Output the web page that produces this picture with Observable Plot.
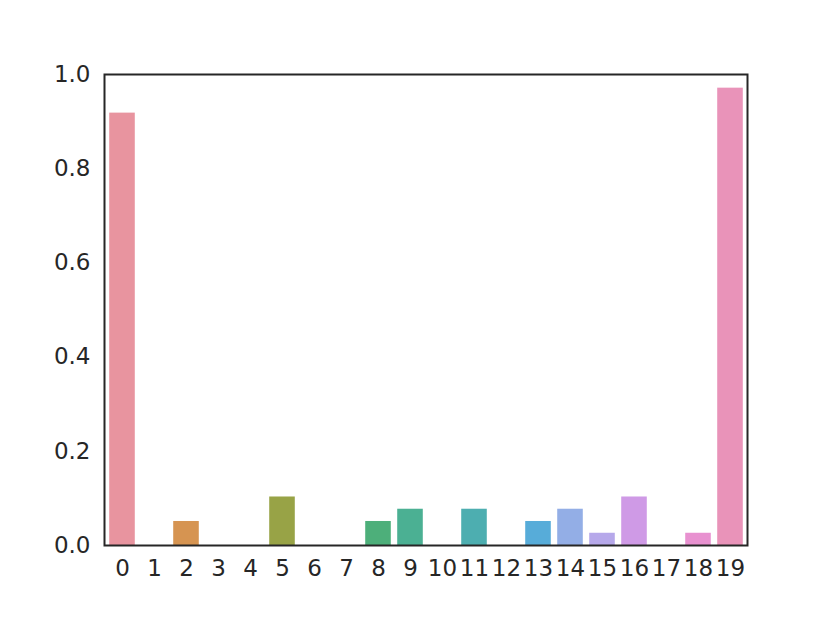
<!DOCTYPE html>
<html>
<head>
<meta charset="utf-8">
<script src="https://cdn.jsdelivr.net/npm/d3@7"></script>
<script src="https://cdn.jsdelivr.net/npm/@observablehq/plot@0.6"></script>
<style>
  html, body { margin: 0; padding: 0; background: #fff; }
  #chart { width: 830px; height: 623px; }
</style>
</head>
<body>
<div id="chart"></div>
<script>
const categories = ["0","1","2","3","4","5","6","7","8","9","10","11","12","13","14","15","16","17","18","19"];
const values = [0.918, 0, 0.051, 0, 0, 0.103, 0, 0, 0.051, 0.077, 0, 0.077, 0, 0.051, 0.077, 0.026, 0.103, 0, 0.026, 0.971];
const colors = ["#e8949f","#e0996a","#d69451","#c09b48","#aca146","#98a346","#80a848","#5fac5c","#4daf7a","#4bb093",
                "#4cafa3","#4daeb0","#50adc2","#57acd9","#93aee6","#b6a8ea","#cf9ae6","#de96de","#e891d0","#e993b9"];
const yTicks = [0, 0.2, 0.4, 0.6, 0.8, 1.0];

const data = categories.map((c, i) => ({cat: c, value: values[i], color: colors[i]}));

const W = 830, ML = 104, MR = 83;
const step = (W - ML - MR) / categories.length;

const chart = Plot.plot({
  width: W,
  height: 623,
  marginLeft: ML,
  marginRight: MR,
  marginTop: 74,
  marginBottom: 78,
  style: {fontFamily: "DejaVu Sans", fontSize: "23px", color: "#262626", background: "#fff"},
  x: {domain: categories, padding: 0, label: null, tickSize: 0, tickPadding: 14},
  y: {domain: [0, 1], ticks: yTicks, tickFormat: d3.format(".1f"), label: null, tickSize: 0, tickPadding: 14},
  marks: [
    Plot.barY(data, {x: "cat", y: "value", fill: "color", insetLeft: step * 0.1, insetRight: step * 0.1}),
    Plot.frame({stroke: "#262626", strokeWidth: 2})
  ]
});
document.getElementById("chart").appendChild(chart);
</script>
</body>
</html>
